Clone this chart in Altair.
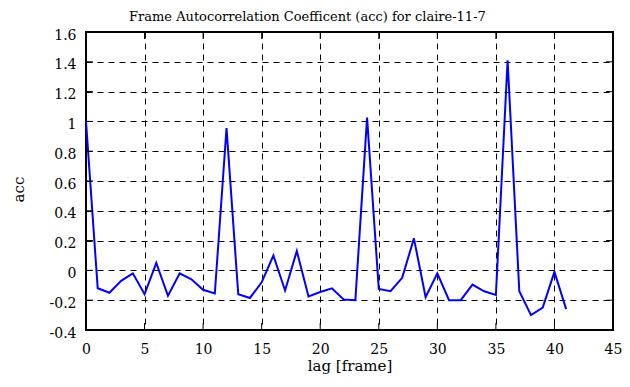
import altair as alt
import pandas as pd

lags = list(range(42))
acc = [1.0, -0.12, -0.15, -0.07, -0.02, -0.16, 0.05, -0.17, -0.02, -0.06,
       -0.13, -0.155, 0.955, -0.16, -0.185, -0.08, 0.10, -0.135, 0.13, -0.175,
       -0.145, -0.12, -0.195, -0.2, 1.025, -0.125, -0.14, -0.05, 0.215, -0.18,
       -0.02, -0.2, -0.2, -0.095, -0.14, -0.165, 1.41, -0.14, -0.3, -0.25,
       -0.01, -0.26]
x_ticks = [0, 5, 10, 15, 20, 25, 30, 35, 40, 45]
y_ticks = [-0.4, -0.2, 0, 0.2, 0.4, 0.6, 0.8, 1, 1.2, 1.4, 1.6]

W, H = 527, 298
FONT = "DejaVu Serif"

df = pd.DataFrame({"lag": lags, "acc": acc})
xt = pd.DataFrame({"t": x_ticks})
yt = pd.DataFrame({"t": y_ticks})

xscale = alt.Scale(domain=[0, 45], nice=False, zero=False)
yscale = alt.Scale(domain=[-0.4, 1.6], nice=False, zero=False)

x_axis = alt.Axis(title="lag [frame]", values=x_ticks, labelPadding=12,
                  titlePadding=2, labelExpr="toString(datum.value)")
y_axis = alt.Axis(title="acc", values=y_ticks, labelPadding=10, labelOffset=3,
                  titleX=-60, titleY=157, titleAngle=-90,
                  labelExpr="toString(datum.value)")

line = alt.Chart(df).mark_line(color="#0000ff", strokeWidth=2).encode(
    x=alt.X("lag:Q", scale=xscale, axis=x_axis),
    y=alt.Y("acc:Q", scale=yscale, axis=y_axis),
)

tick_style = dict(color="black", strokeWidth=1)
left_ticks = alt.Chart(yt).mark_rule(**tick_style).encode(
    y=alt.Y("t:Q", scale=yscale, axis=y_axis), x=alt.value(0), x2=alt.value(7))
right_ticks = alt.Chart(yt).mark_rule(**tick_style).encode(
    y=alt.Y("t:Q", scale=yscale, axis=y_axis), x=alt.value(W - 7), x2=alt.value(W))
bottom_ticks = alt.Chart(xt).mark_rule(**tick_style).encode(
    x=alt.X("t:Q", scale=xscale, axis=x_axis), y=alt.value(H), y2=alt.value(H - 7))
top_ticks = alt.Chart(xt).mark_rule(**tick_style).encode(
    x=alt.X("t:Q", scale=xscale, axis=x_axis), y=alt.value(0), y2=alt.value(7))

chart = alt.layer(line, left_ticks, right_ticks, bottom_ticks, top_ticks).properties(
    width=W, height=H,
    title=alt.TitleParams(
        "Frame Autocorrelation Coefficent (acc) for claire-11-7",
        font=FONT, fontSize=13, fontWeight="normal", color="black",
        anchor="start", frame="group", dx=43, offset=4),
    autosize=alt.AutoSizeParams(type="none"),
    padding={"left": 78, "top": 24, "right": 9, "bottom": 47},
).configure(
    background="white",
    view=alt.ViewConfig(stroke="black", strokeWidth=2),
    axis=alt.AxisConfig(grid=True, gridDash=[6, 5], gridColor="black",
                        gridOpacity=1, gridWidth=1, ticks=False, domain=False,
                        labelFont=FONT, labelFontSize=14, labelColor="black",
                        labelOverlap=False, labelFlush=False,
                        titleFont=FONT, titleFontSize=15,
                        titleFontWeight="normal", titleColor="black"),
)

chart.save("out.html", embed_options={"renderer": "svg", "actions": False})
